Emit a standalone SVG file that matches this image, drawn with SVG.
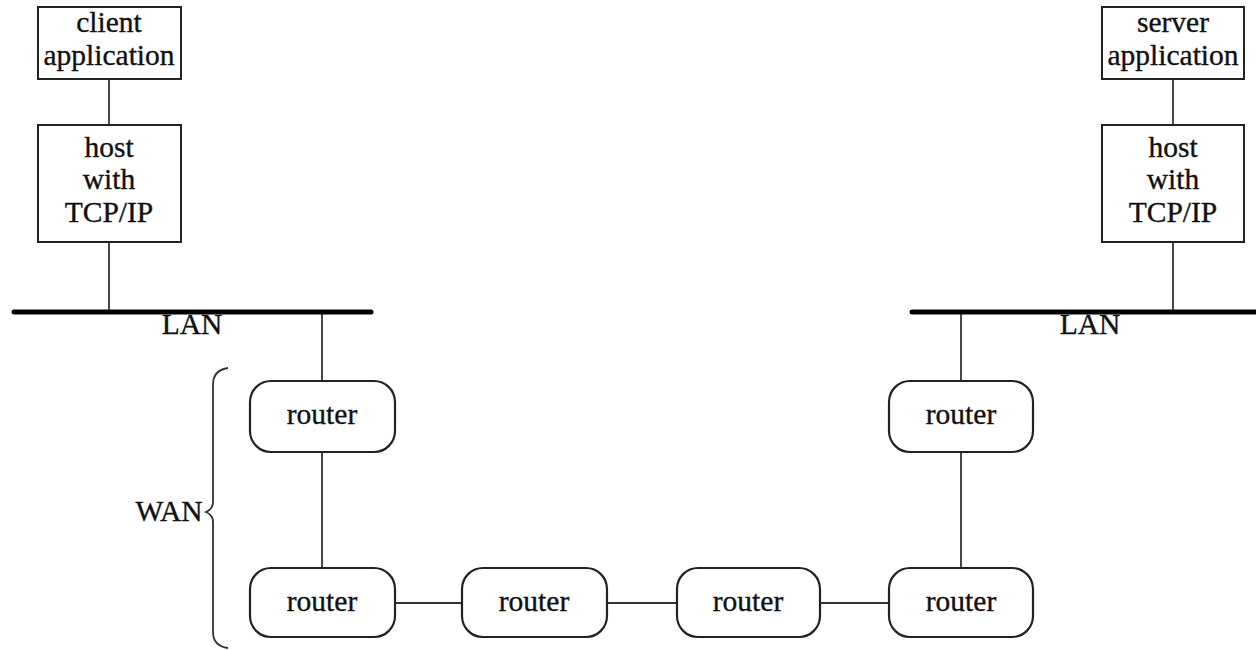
<svg xmlns="http://www.w3.org/2000/svg" width="1256" height="650" viewBox="0 0 1256 650">
<style>
.box{fill:#fff;stroke:#222;stroke-width:2}
.rt{fill:#fff;stroke:#222;stroke-width:2.2}
.ln{stroke:#333;stroke-width:1.8;fill:none}
.bus{stroke:#000;stroke-width:5;stroke-linecap:round}
text{font-family:"Liberation Serif","Times New Roman",serif;font-size:29.5px;fill:#111;stroke:#111;stroke-width:0.35;text-anchor:middle}
</style>
<rect width="1256" height="650" fill="#fff"/>
<g id="connectors">
<line class="ln" x1="109" y1="79" x2="109" y2="125"/>
<line class="ln" x1="109" y1="242" x2="109" y2="311"/>
<line class="ln" x1="1173" y1="79" x2="1173" y2="125"/>
<line class="ln" x1="1173" y1="242" x2="1173" y2="311"/>
<line class="ln" x1="322" y1="311" x2="322" y2="381"/>
<line class="ln" x1="961" y1="311" x2="961" y2="381"/>
<line class="ln" x1="322" y1="452" x2="322" y2="568"/>
<line class="ln" x1="961" y1="452" x2="961" y2="568"/>
<line class="ln" x1="395" y1="603" x2="462" y2="603"/>
<line class="ln" x1="607" y1="603" x2="677" y2="603"/>
<line class="ln" x1="820" y1="603" x2="889" y2="603"/>
</g>
<g id="lan-left"><line class="bus" x1="14" y1="312" x2="371" y2="312"/><text x="192" y="334">LAN</text></g>
<g id="lan-right"><line class="bus" x1="912" y1="312" x2="1262" y2="312"/><text x="1090" y="334">LAN</text></g>
<g id="client-app"><rect class="box" x="38" y="7" width="143" height="72"/><text x="109" y="32">client</text><text x="109" y="65">application</text></g>
<g id="client-host"><rect class="box" x="38" y="125" width="143" height="117"/><text x="109" y="157">host</text><text x="109" y="189">with</text><text x="109" y="222">TCP/IP</text></g>
<g id="server-app"><rect class="box" x="1102" y="7" width="142" height="72"/><text x="1173" y="32">server</text><text x="1173" y="65">application</text></g>
<g id="server-host"><rect class="box" x="1102" y="125" width="142" height="117"/><text x="1173" y="157">host</text><text x="1173" y="189">with</text><text x="1173" y="222">TCP/IP</text></g>
<g id="router1"><rect class="rt" x="250" y="381" width="145" height="71" rx="21"/><text x="322" y="424">router</text></g>
<g id="router2"><rect class="rt" x="889" y="381" width="144" height="71" rx="21"/><text x="961" y="424">router</text></g>
<g id="router3"><rect class="rt" x="250" y="568" width="145" height="69" rx="21"/><text x="322" y="611">router</text></g>
<g id="router4"><rect class="rt" x="462" y="568" width="145" height="69" rx="21"/><text x="534" y="611">router</text></g>
<g id="router5"><rect class="rt" x="677" y="568" width="143" height="69" rx="21"/><text x="748" y="611">router</text></g>
<g id="router6"><rect class="rt" x="889" y="568" width="144" height="69" rx="21"/><text x="961" y="611">router</text></g>
<g id="wan"><path class="ln" d="M228,368 Q213,370 213,385 L213,502 Q213,509 206,512 Q213,515 213,522 L213,632 Q213,646 228,648"/><text x="169" y="521">WAN</text></g>
</svg>
